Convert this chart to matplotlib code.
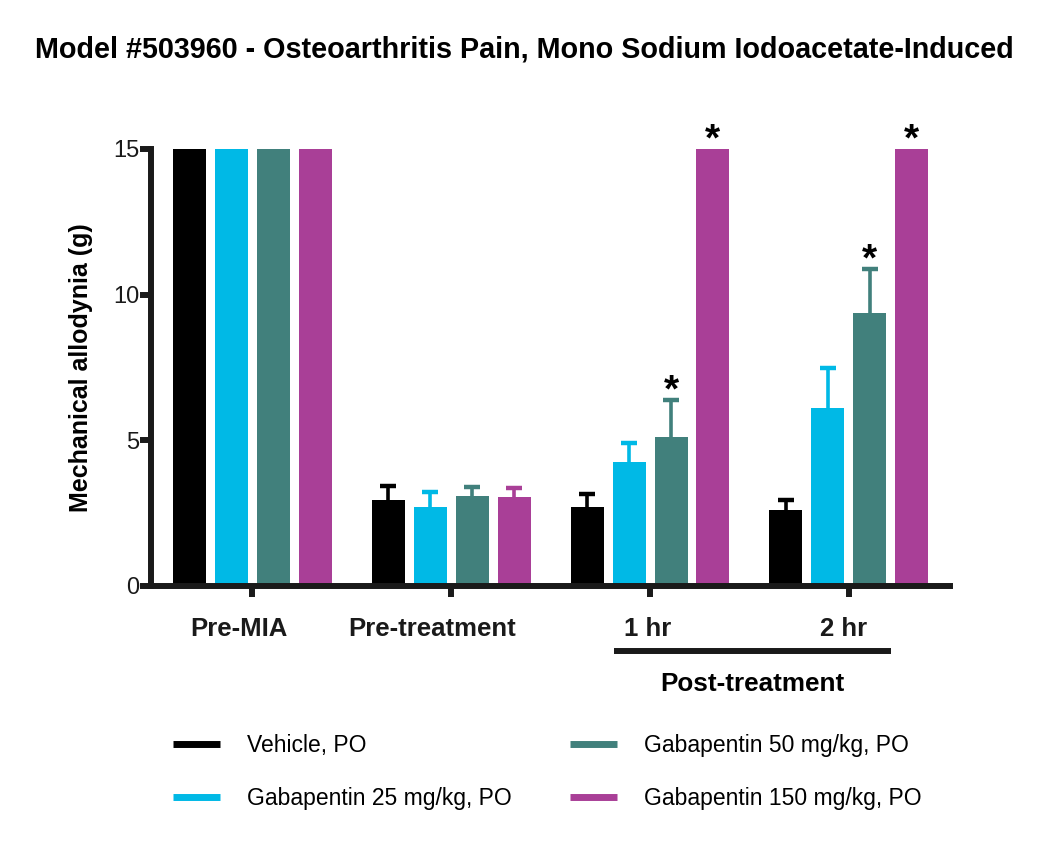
import matplotlib
matplotlib.use("Agg")
import matplotlib.pyplot as plt
from matplotlib.lines import Line2D
from matplotlib.transforms import ScaledTranslation
import numpy as np

plt.rcParams['font.family'] = ['Liberation Sans', 'DejaVu Sans']

# ---- data ----
groups = ["Pre-MIA", "Pre-treatment", "1 hr", "2 hr"]
series_names = ["Vehicle, PO", "Gabapentin 25 mg/kg, PO",
                "Gabapentin 50 mg/kg, PO", "Gabapentin 150 mg/kg, PO"]
vehicle = [15, 2.95, 2.71, 2.61]
vehicle_err = [0, 0.48, 0.45, 0.34]
gaba25 = [15, 2.71, 4.26, 6.11]
gaba25_err = [0, 0.50, 0.65, 1.37]
gaba50 = [15, 3.08, 5.11, 9.37]
gaba50_err = [0, 0.32, 1.28, 1.51]
gaba150 = [15, 3.05, 15, 15]
gaba150_err = [0, 0.30, 0, 0]
gaba50_sig = [False, False, True, True]
gaba150_sig = [False, False, True, True]
yticks = [0, 5, 10, 15]
post_label = "Post-treatment"
title = "Model #503960 - Osteoarthritis Pain, Mono Sodium Iodoacetate-Induced"
ylabel = "Mechanical allodynia (g)"

colors = ["#000000", "#00B9E6", "#41807C", "#A93F97"]
values = [vehicle, gaba25, gaba50, gaba150]
errors = [vehicle_err, gaba25_err, gaba50_err, gaba150_err]
sigs = [None, None, gaba50_sig, gaba150_sig]
label_shift_px = [-13, -19, -2, -5]  # horizontal nudge of group labels

fig = plt.figure(figsize=(10.5, 8.44), dpi=100)
ax = fig.add_axes([0.1438, 0.3057, 0.7612, 0.5178])

x = np.arange(len(groups))
width = 0.166
step = 0.211
for i, (vals, errs, c) in enumerate(zip(values, errors, colors)):
    pos = x + (i - 1.5) * step
    vals_arr = np.array(vals, dtype=float)
    errs_arr = np.array(errs, dtype=float)
    ax.bar(pos, vals_arr, width=width, color=c, zorder=2)
    mask = errs_arr > 0
    ax.vlines(pos[mask], vals_arr[mask], vals_arr[mask] + errs_arr[mask],
              color=c, lw=2.6, zorder=1)
    ax.plot(pos[mask], vals_arr[mask] + errs_arr[mask], linestyle="none",
            marker="_", ms=11.5, mew=3.2, color=c, zorder=1)
    if sigs[i] is not None:
        for p, v, e, s in zip(pos, vals_arr, errs_arr, sigs[i]):
            if s:
                ax.annotate("*", (p, v + e), xytext=(0, -7),
                            textcoords="offset points", ha="center",
                            va="bottom", fontsize=28, fontweight="bold",
                            annotation_clip=False)

ax.set_xlim(-0.51, 3.51)
ax.set_ylim(0, 15)
ax.set_yticks(yticks)
ax.set_xticks(x)
ax.set_xticklabels(groups, fontsize=18.5, fontweight="bold")
ax.tick_params(axis='y', labelsize=17, length=8, width=4.3, pad=0.5, direction='out')
ax.tick_params(axis='x', length=8, width=4.3, pad=14.5, direction='out')
for lab, dx in zip(ax.get_xticklabels(), label_shift_px):
    lab.set_transform(lab.get_transform() +
                      ScaledTranslation(dx / 100, 0, fig.dpi_scale_trans))
for s in ["top", "right"]:
    ax.spines[s].set_visible(False)
for s in ["left", "bottom"]:
    ax.spines[s].set_linewidth(4.3)
    ax.spines[s].set_color("#1a1a1a")
ax.tick_params(colors="#1a1a1a")
ax.set_ylabel(ylabel, fontsize=18, fontweight="bold", labelpad=14)

# Post-treatment bracket
trans = ax.get_xaxis_transform()
ax.plot([1.82, 3.21], [-0.149, -0.149], transform=trans, color="#1a1a1a",
        lw=4.3, clip_on=False, solid_capstyle="butt")
ax.text(2.515, -0.224, post_label, transform=trans, ha="center", va="center",
        fontsize=18.8, fontweight="bold")

fig.text(0.4995, 0.941, title, ha="center", va="center", fontsize=20.7,
         fontweight="bold")

handles = [Line2D([0], [0], color=c, lw=5, solid_capstyle="butt") for c in colors]
fig.legend(handles, series_names, ncol=2, loc="upper left",
           bbox_to_anchor=(173 / 1050, 0.1305), frameon=False, fontsize=16.5,
           handlelength=2.05, handletextpad=1.17, columnspacing=2.57,
           labelspacing=1.33, borderpad=0, borderaxespad=0)

fig.savefig("out.png", dpi=100)
